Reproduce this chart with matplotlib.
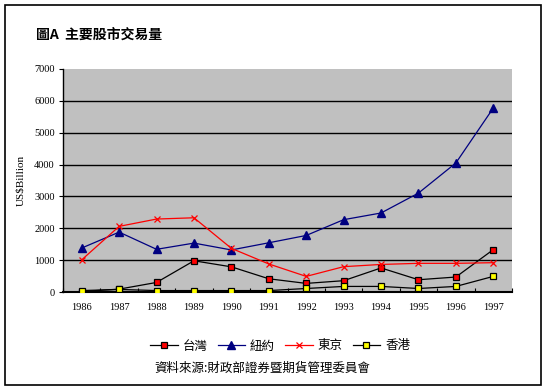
import matplotlib
matplotlib.use("Agg")
import matplotlib.pyplot as plt
from matplotlib.patches import Rectangle
import numpy as np

plt.rcParams['font.family'] = ['Noto Sans CJK TC', 'DejaVu Sans']

years = ['1986', '1987', '1988', '1989', '1990', '1991',
         '1992', '1993', '1994', '1995', '1996', '1997']
taiwan = [15, 90, 300, 980, 790, 415, 270, 355, 755, 385, 470, 1330]
newyork = [1380, 1880, 1340, 1535, 1320, 1545, 1775, 2270, 2480, 3105, 4050, 5775]
tokyo = [1010, 2060, 2290, 2330, 1370, 880, 490, 795, 865, 900, 900, 920]
hongkong = [45, 80, 45, 45, 45, 45, 110, 175, 175, 110, 175, 490]
series_names = ['台灣', '紐約', '東京', '香港']

fig = plt.figure(figsize=(5.47, 3.90), dpi=100)
fig.patches.append(Rectangle((5 / 547, 5 / 390), 536 / 547, 380 / 390,
                             transform=fig.transFigure, fill=False,
                             edgecolor='black', linewidth=1.2))

ax = fig.add_axes([63 / 547, 98 / 390, 449 / 547, 223 / 390])
ax.set_facecolor('#c0c0c0')

x = np.arange(len(years))
ax.plot(x, taiwan, color='black', lw=0.9, marker='s', ms=5,
        mfc='#ff0000', mec='black', mew=0.9, label=series_names[0], zorder=3)
ax.plot(x, newyork, color='#000080', lw=0.9, marker='^', ms=6,
        mfc='#000080', mec='#000080', label=series_names[1], zorder=3)
ax.plot(x, tokyo, color='#ff0000', lw=0.9, marker='x', ms=5,
        mew=0.9, label=series_names[2], zorder=3)
ax.plot(x, hongkong, color='black', lw=0.9, marker='s', ms=5,
        mfc='#ffff00', mec='black', mew=0.9, label=series_names[3], zorder=4)

ax.set_xlim(-0.5, len(years) - 0.5)
ax.set_ylim(0, 7000)
ax.set_yticks(np.arange(0, 7001, 1000))
for yv in range(1000, 7000, 1000):
    ax.axhline(yv, color='black', lw=1.0, zorder=1)

ax.set_xticks(x)
ax.set_xticklabels(years, family='Liberation Serif', fontsize=7.5)
ax.set_xticks(np.arange(-0.5, len(years), 1), minor=True)
ax.tick_params(axis='x', which='major', length=0, pad=8)
ax.tick_params(axis='x', which='minor', direction='in', length=3, width=0.8)
ax.tick_params(axis='y', direction='out', length=3, width=0.8, pad=3)
for lab in ax.get_yticklabels():
    lab.set_family('Liberation Serif')
    lab.set_fontsize(7.5)

ax.spines['top'].set_visible(False)
ax.spines['right'].set_visible(False)
ax.spines['left'].set_linewidth(1.0)
ax.spines['bottom'].set_linewidth(1.5)

ax.set_ylabel('US$Billion', family='Liberation Serif', fontsize=8, labelpad=6)

fig.text(36 / 547, 1 - 35 / 390, '圖A  主要股市交易量', fontsize=10,
         fontweight='bold', va='center', ha='left')

fig.legend(loc='center', bbox_to_anchor=(280 / 547, 1 - 346 / 390), ncol=4,
           frameon=False, fontsize=9, handlelength=2.2, handletextpad=0.4,
           columnspacing=0.8)

fig.text(262 / 547, 1 - 368 / 390, '資料來源:財政部證券暨期貨管理委員會',
         fontsize=9, style='italic', ha='center', va='center')

fig.savefig('out.png', dpi=100)
